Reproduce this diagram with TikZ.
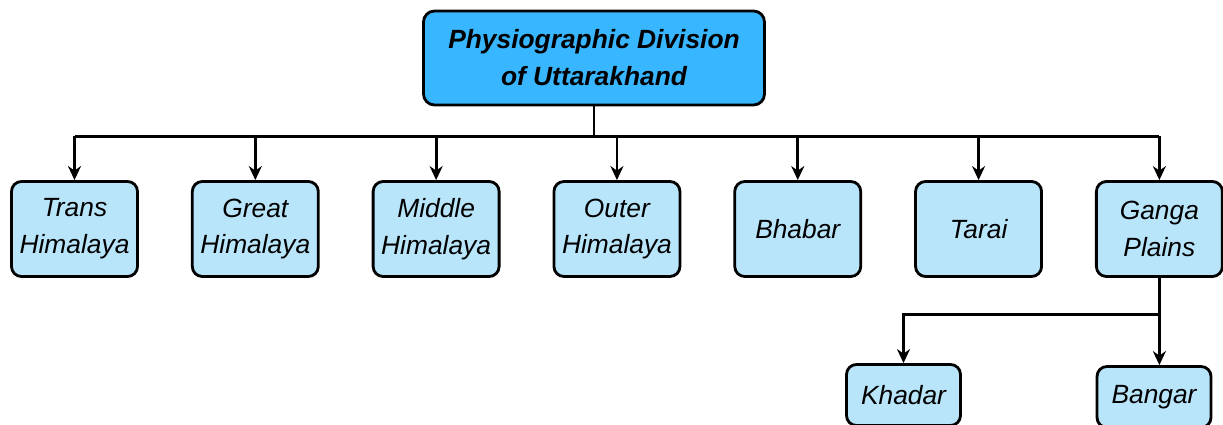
\documentclass[tikz,border=0pt]{standalone}
\usepackage{fontspec}
\setmainfont{Liberation Sans}
\usetikzlibrary{positioning,arrows.meta,calc}
\definecolor{topblue}{HTML}{38B6FF}
\definecolor{leafblue}{HTML}{B9E5FB}

\begin{document}
\begin{tikzpicture}[>={Stealth[length=2.8mm,width=2.6mm]}, line width=1.6pt,
  font=\fontsize{15}{21}\selectfont\itshape,
  root/.style={draw,rounded corners=2.2mm,fill=topblue,minimum width=6.82cm,minimum height=1.88cm,
    align=center,font=\fontsize{15}{21}\selectfont\bfseries\itshape},
  leaf/.style={draw,rounded corners=2mm,fill=leafblue,minimum width=2.52cm,minimum height=1.9cm,
    align=center,inner sep=1pt},
  sub/.style={leaf,minimum width=2.28cm,minimum height=1.22cm}]
  \useasboundingbox (0,0) rectangle (24.46,-8.5);
  \node[root](div) at (11.88,-1.16){Physiographic Division\\of Uttarakhand};
  \node[leaf](trans) at (1.49,-4.58){Trans\\Himalaya};
  \node[leaf,right=1.04cm of trans](great){Great\\Himalaya};
  \node[leaf,right=1.04cm of great](middle){Middle\\Himalaya};
  \node[leaf,right=1.04cm of middle](outer){Outer\\Himalaya};
  \node[leaf,right=1.04cm of outer](bhabar){Bhabar};
  \node[leaf,right=1.04cm of bhabar](tarai){Tarai};
  \node[leaf,right=1.04cm of tarai](ganga){Ganga\\Plains};
  \node[sub](khadar) at (18.07,-7.9){Khadar};
  \node[sub](bangar) at (23.08,-7.94){Bangar};
  % main branches
  \coordinate(bus) at ($(div.south)+(0,-0.6)$);
  \draw (div.south)--(bus);
  \draw (trans.north|-bus)--(ganga.north|-bus);
  \foreach \n in {trans,great,middle,outer,bhabar,tarai,ganga}
    \draw[->](\n.north|-bus)--(\n.north);
  % ganga plains
  \coordinate(split) at ($(ganga.south)+(0,-0.74)$);
  \draw[->](ganga.south)--(ganga.south|-bangar.north);
  \draw[->](split)-|(khadar.north);
\end{tikzpicture}
\end{document}
